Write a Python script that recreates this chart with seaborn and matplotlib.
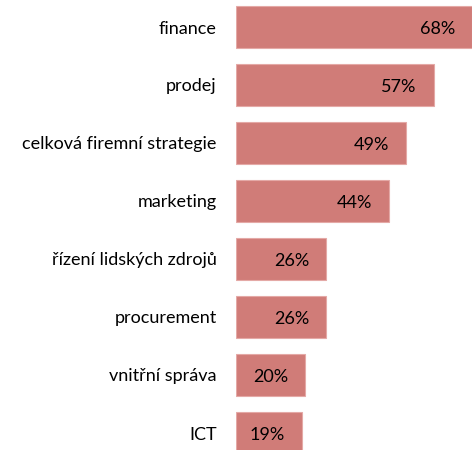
import matplotlib
matplotlib.use("Agg")
import matplotlib.pyplot as plt
import seaborn as sns
import pandas as pd
from matplotlib.transforms import offset_copy

categories = ["finance", "prodej", "celková firemní strategie", "marketing",
              "řízení lidských zdrojů", "procurement", "vnitřní správa", "ICT"]
values = [68, 57, 49, 44, 26, 26, 20, 19]
value_labels = ["68%", "57%", "49%", "44%", "26%", "26%", "20%", "19%"]

df = pd.DataFrame({"cat": categories, "val": values})

sns.set_style("white")
plt.rcParams['font.family'] = ['Lato', 'DejaVu Sans']

fig = plt.figure(figsize=(4.75, 4.5), dpi=100)
ax = fig.add_axes([236/475, 0, (472-236)/475, 1])
sns.barplot(data=df, x="val", y="cat", color="#D07C78", saturation=1,
            width=0.72, ax=ax, edgecolor="#E4A9A6", linewidth=0.8)
ax.set_xlim(0, 68)
ax.set_ylim(7 + 17/58, -27/58)
for s in ax.spines.values():
    s.set_visible(False)
ax.set_xlabel("")
ax.set_ylabel("")
ax.set_xticks([])
ax.tick_params(axis="y", length=0, pad=14, labelsize=13)
for lab in ax.get_yticklabels():
    lab.set_color("#000000")

trans = offset_copy(ax.transData, fig=fig, x=-17, y=-2, units="dots")
for i, (v, t) in enumerate(zip(values, value_labels)):
    ax.text(v, i, t, transform=trans, ha="right", va="center",
            fontsize=13, color="#000000")

fig.savefig("out.png", dpi=100)
